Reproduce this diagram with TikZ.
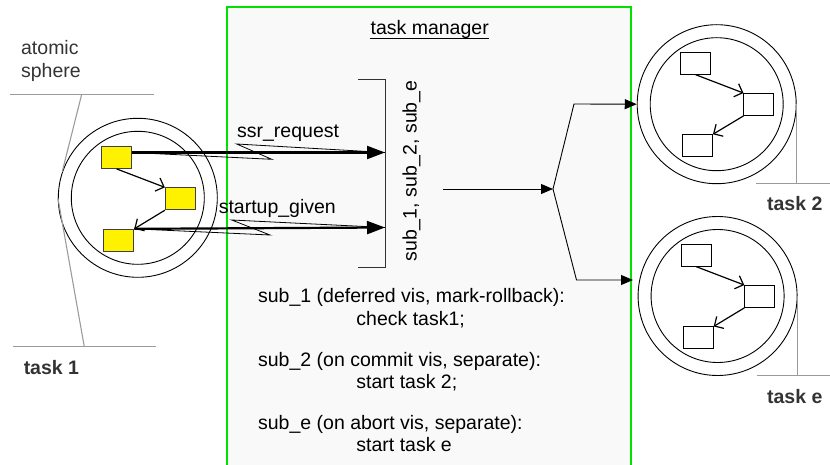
\documentclass[tikz,border=0pt]{standalone}
\usepackage{fontspec}
\setmainfont{Liberation Sans}
\usetikzlibrary{arrows.meta}

\definecolor{tmfill}{RGB}{249,249,249}
\definecolor{tmline}{RGB}{0,225,0}
\definecolor{leadgray}{RGB}{155,155,155}
\definecolor{labelgray}{RGB}{51,51,51}

\begin{document}
\begin{tikzpicture}[x=1pt, y=-1pt, line width=0.9pt,
        txt/.style={inner sep=0pt, anchor=base west, font=\fontsize{19.5}{23}\selectfont},
        tasklbl/.style={txt, text=labelgray, font=\fontsize{19.5}{23}\selectfont\bfseries},
        sphere/.style={circle, draw, inner sep=0pt, minimum size=159},
        core/.style={circle, draw, inner sep=0pt, minimum size=133},
        job/.style={draw, inner sep=0pt, minimum width=30, minimum height=22},
        hot/.style={job, fill=yellow, draw=black!75},
        flow/.style={line width=1.2pt, -{Straight Barb[length=7pt, width=14pt]}},
        msg/.style={line width=2.2pt, -{Triangle[length=18pt, width=13pt]}},
        zig/.style={line width=0.8pt},
        leader/.style={draw=leadgray, line width=1.1pt},
        splitarr/.style={-{Triangle[length=12pt, width=10pt]}}]
        \useasboundingbox (0, 0) rectangle (830, 465);

        % task manager
        \fill [tmfill] (227, 7) rectangle (631, 465);
        \draw [draw=tmline, line width=1.1pt] (227, 465) -- (227, 7) -- (631, 7) -- (631, 465);
        \node [txt, anchor=base] (tmtitle) at (429.7, 35) {task manager};
        \draw ([yshift=-3pt]tmtitle.base west) -- ([yshift=-3pt]tmtitle.base east);

        % task 1
        \node [sphere] (t1out) at (137.8, 197.8) {};
        \node [core] (t1in) at (137.8, 197.8) {};
        \node [hot] (a1) at (116.7, 157.5) {};
        \node [hot] (a2) at (180.3, 198.8) {};
        \node [hot] (a3) at (118.8, 240.3) {};
        \draw [flow] (a1.south) -- (a2.north west);
        \draw [flow] (a2.south west) -- (a3.north east);

        % task 2
        \node [sphere] (t2out) at (716.7, 104.2) {};
        \node [core] (t2in) at (716.7, 104.2) {};
        \node [job] (b1) at (695.5, 63.2) {};
        \node [job] (b2) at (758.9, 104.5) {};
        \node [job] (b3) at (697.5, 145.7) {};
        \draw [flow] (b1.south) -- (b2.north west);
        \draw [flow] (b2.south west) -- (b3.north east);

        % task e
        \node [sphere] (teout) at (717.6, 296) {};
        \node [core] (tein) at (717.6, 296) {};
        \node [job] (c1) at (696.2, 255.2) {};
        \node [job] (c2) at (759.7, 296.5) {};
        \node [job] (c3) at (698.2, 337.9) {};
        \draw [flow] (c1.south) -- (c2.north west);
        \draw [flow] (c2.south west) -- (c3.north east);

        % subscriptions
        \coordinate (brtop) at (385, 79);
        \coordinate (brbot) at (385, 267);
        \draw [black!80] (brtop) ++(-27, 0) -- (brtop) -- (brbot) -- ++(-27, 0);
        \node [rotate=90, inner sep=0pt, font=\fontsize{19.5}{23}\selectfont] (subs) at (411.5, 171) {sub\_1, sub\_2, sub\_e};

        \coordinate (ssrin) at (385, 152.5);
        \coordinate (upin) at (385, 227.5);
        \draw [zig] (a1.east |- ssrin) -- (271.7, 159.3) -- (236.7, 144) -- (ssrin);
        \draw [msg] (a1.east |- ssrin) -- (ssrin);
        \draw [zig] (a3.north east) -- (270, 235) -- (231.7, 220) -- (upin);
        \draw [msg] (a3.north east) -- (upin);
        \node [txt] (ssrlbl) at (236.7, 137.3) {ssr\_request};
        \node [txt] (uplbl) at (218.3, 213.3) {startup\_given};

        % dispatch
        \coordinate (merge) at (443, 189);
        \coordinate (split) at (553, 189);
        \coordinate (teend) at (633, 280);
        \draw [splitarr] (merge) -- (split);
        \draw [splitarr] (split) -- (574, 104) -- (t2out.west);
        \draw [splitarr] (split) -- (576.5, 280) -- (teend);

        % leaders
        \draw [leader] (10.3, 94.3) -- (154, 94.3);
        \draw [leader] (81.7, 94.3) -- (t1out.161);
        \draw [leader] (12.7, 346.7) -- (156, 346.7);
        \draw [leader] (84.3, 346.7) -- (t1out.west);
        \draw [leader] (t2out.east) -- ++(0, 79.1);
        \draw [leader] (756, 183.3) -- (830, 183.3);
        \draw [leader] (teout.east) -- ++(0, 79.7);
        \draw [leader] (757, 375.7) -- (830, 375.7);

        \node [txt, text=labelgray] (atom1) at (20.7, 54.3) {atomic};
        \node [txt, text=labelgray] (atom2) at (20.7, 78) {sphere};
        \node [tasklbl] (t1lbl) at (23.3, 374) {task 1};
        \node [tasklbl] (t2lbl) at (766.7, 211) {task 2};
        \node [tasklbl] (telbl) at (766.7, 403.5) {task e};

        % subscription list
        \node [txt] (s1) at (257.7, 302.3) {sub\_1 (deferred vis, mark-rollback):};
        \node [txt] (s1b) at (356, 325) {check task1;};
        \node [txt] (s2) at (257.7, 366.7) {sub\_2 (on commit vis, separate):};
        \node [txt] (s2b) at (356, 388.3) {start task 2;};
        \node [txt] (s3) at (257.7, 429.3) {sub\_e (on abort vis, separate):};
        \node [txt] (s3b) at (356, 451.7) {start task e};
    \end{tikzpicture}
\end{document}
